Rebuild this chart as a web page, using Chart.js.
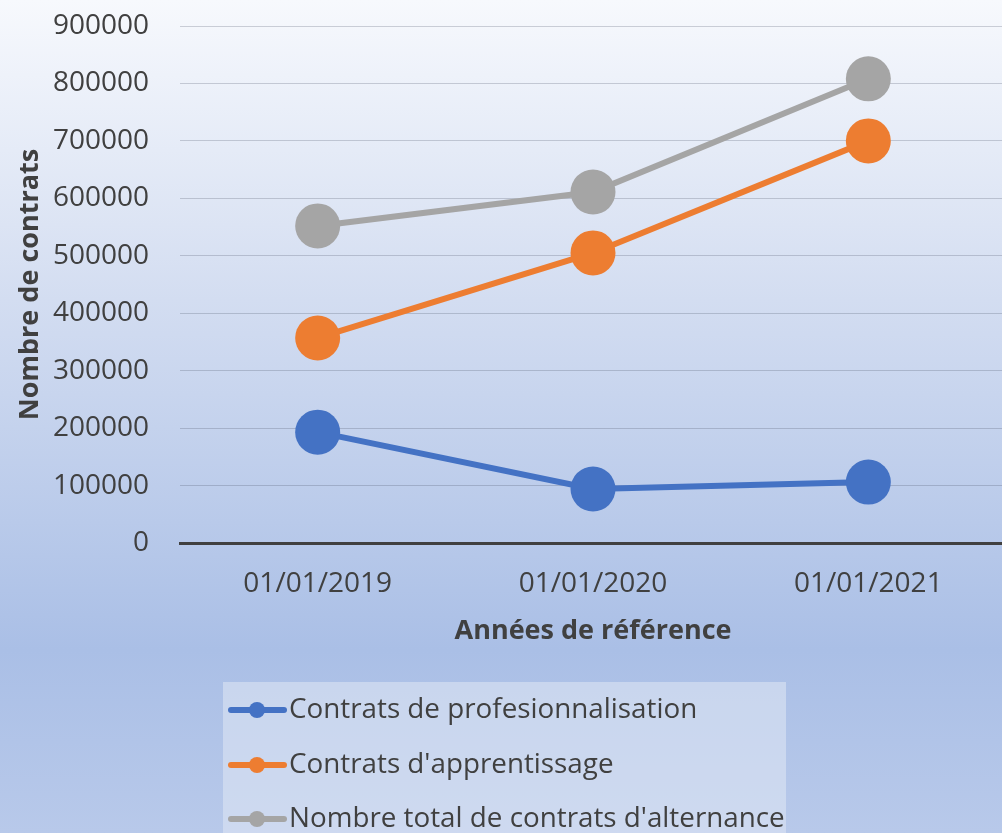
<!DOCTYPE html>
<html>
<head>
<meta charset="utf-8">
<script src="https://cdn.jsdelivr.net/npm/chart.js@4"></script>
<style>
html,body{margin:0;padding:0;overflow:hidden;width:1002px;height:833px;}
canvas{display:block;}
</style>
</head>
<body>
<canvas id="c" width="1006" height="833"></canvas>
<script>
const categories = ["01/01/2019", "01/01/2020", "01/01/2021"];
const proValues = [193000, 94000, 106000];
const apprValues = [357000, 505000, 700000];
const totalValues = [552000, 611000, 808000];
const seriesNames = ["Contrats de profesionnalisation", "Contrats d'apprentissage", "Nombre total de contrats d'alternance"];
const seriesColors = ["#4472c4", "#ed7d31", "#a5a5a5"];
const yTickMax = 900000;
const yTickStep = 100000;

const textColor = "#404040";
const FONT = "'Open Sans', 'DejaVu Sans', sans-serif";

const bgPlugin = {
  id: "bg",
  beforeDraw(chart) {
    const ctx = chart.ctx;
    const h = chart.height;
    const g = ctx.createLinearGradient(0, 0, 0, h);
    g.addColorStop(0, "#f7f9fd");
    g.addColorStop(0.36, "#d3ddf1");
    g.addColorStop(0.78, "#aabfe6");
    g.addColorStop(1, "#b8c9ea");
    ctx.save();
    ctx.fillStyle = g;
    ctx.fillRect(0, 0, chart.width, h);
    ctx.restore();
  }
};

const legendPlugin = {
  id: "customLegend",
  afterDraw(chart) {
    const ctx = chart.ctx;
    ctx.save();
    ctx.fillStyle = "rgba(220,228,243,0.6)";
    ctx.fillRect(223, 682, 563, 170);
    const rows = [710, 765, 819];
    chart.data.datasets.forEach((ds, i) => {
      const y = rows[i];
      ctx.strokeStyle = ds.borderColor;
      ctx.lineWidth = 6;
      ctx.lineCap = "round";
      ctx.beginPath();
      ctx.moveTo(231, y);
      ctx.lineTo(284, y);
      ctx.stroke();
      ctx.fillStyle = ds.borderColor;
      ctx.beginPath();
      ctx.arc(257, y, 8, 0, Math.PI * 2);
      ctx.fill();
      ctx.fillStyle = textColor;
      ctx.font = "27.8px " + FONT;
      ctx.textAlign = "left";
      ctx.textBaseline = "middle";
      ctx.fillText(ds.label, 289, y);
    });
    ctx.restore();
  }
};

const mk = (i, data) => ({
  label: seriesNames[i],
  data: data,
  borderColor: seriesColors[i],
  backgroundColor: seriesColors[i],
  borderWidth: 6,
  pointRadius: 22.5,
  pointHoverRadius: 22.5,
  pointBorderWidth: 0,
  tension: 0,
  clip: false
});

new Chart(document.getElementById("c"), {
  type: "line",
  data: {
    labels: categories,
    datasets: [mk(0, proValues), mk(1, apprValues), mk(2, totalValues)]
  },
  options: {
    responsive: false,
    animation: false,
    devicePixelRatio: 1,
    layout: { autoPadding: false, padding: { top: 26, left: 0, right: 0, bottom: 173 } },
    plugins: { legend: { display: false }, tooltip: { enabled: false } },
    scales: {
      x: {
        offset: true,
        grid: { display: false, drawTicks: false },
        border: { display: true, color: "#404040", width: 3 },
        ticks: { color: textColor, font: { family: FONT, size: 28 }, padding: 24, maxRotation: 0 },
        title: { display: true, text: "Années de référence", color: textColor,
                 font: { family: FONT, size: 27, weight: "bold" }, padding: { top: 0, bottom: 12 } },
        afterFit(scale) { scale.height = 117; scale.paddingLeft = 0; scale.paddingRight = 0; }
      },
      y: {
        min: 0,
        max: yTickMax,
        grid: { color: "rgba(70,80,100,0.25)", lineWidth: 1, drawTicks: false },
        border: { display: false },
        ticks: { stepSize: yTickStep, color: textColor, font: { family: FONT, size: 28 }, padding: 31,
                 callback: v => String(v) },
        title: { display: true, text: "Nombre de contrats", color: textColor,
                 font: { family: FONT, size: 27, weight: "bold" }, padding: { top: 14, bottom: 0 } },
        afterFit(scale) { scale.width = 180; scale.paddingTop = 0; scale.paddingBottom = 0; }
      }
    }
  },
  plugins: [bgPlugin, legendPlugin]
});
</script>
</body>
</html>
